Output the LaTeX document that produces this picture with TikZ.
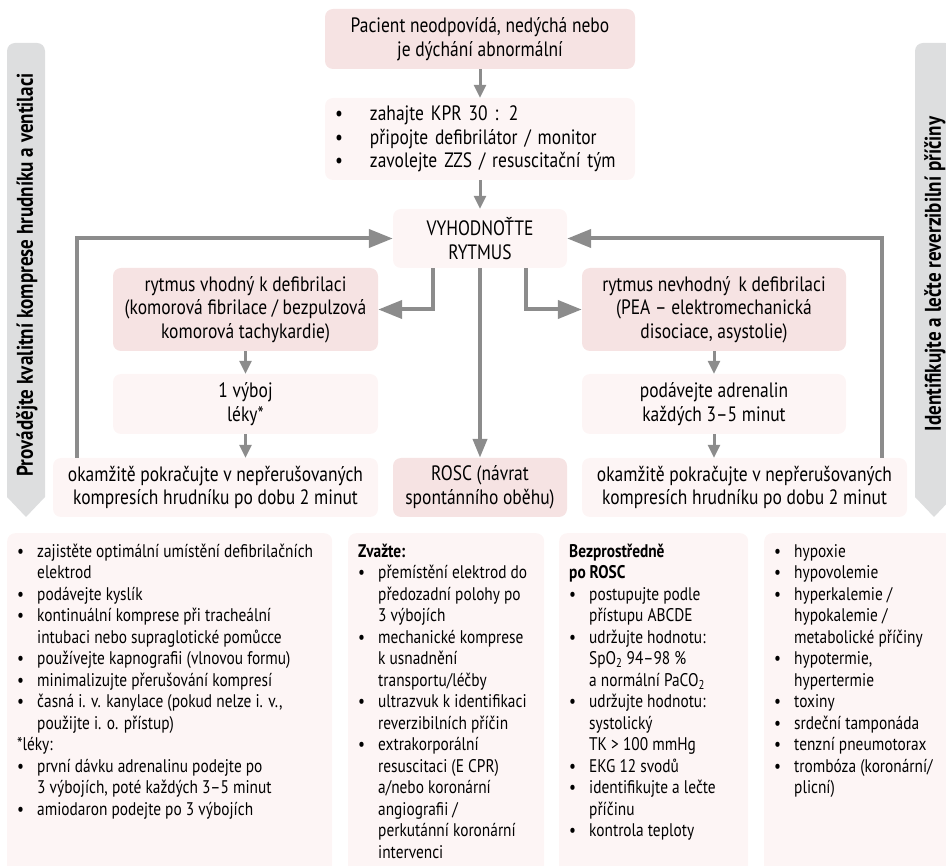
\documentclass[tikz,border=0pt]{standalone}
\usepackage{fontspec}
\setmainfont{PT Sans}[FakeStretch=0.84]
\usetikzlibrary{arrows.meta}
\definecolor{dpink}{RGB}{246,227,227}
\definecolor{lpink}{RGB}{253,245,245}
\definecolor{bargray}{RGB}{221,222,223}
\definecolor{agray}{RGB}{140,140,140}
\newcommand\bul{\makebox[20pt][l]{•}}
\newcommand\bulw{\makebox[35pt][l]{•}}
\newcommand\ind{\hspace*{20pt}}
\newcommand\bottomtext[2]{\begin{minipage}[t][330pt][t]{#1}\raggedright\fontsize{18.3}{21.5}\selectfont\strut #2\end{minipage}}
\begin{document}
\begin{tikzpicture}[x=1pt,y=-1pt,
  flowbox/.style={rounded corners=8pt, inner sep=0pt, align=center, font=\fontsize{20.8}{23.5}\selectfont},
  dbox/.style={flowbox, fill=dpink},
  lbox/.style={flowbox, fill=lpink},
  big/.style={draw=agray, line width=4pt, -{Triangle[length=24pt,width=18pt]}},
  mid/.style={draw=agray, line width=4pt, -{Triangle[length=19pt,width=14pt]}},
  small/.style={draw=agray, line width=3pt, -{Triangle[length=13pt,width=12pt]}},
  bottombox/.style={fill=lpink, rounded corners=8pt, anchor=north west, inner xsep=10pt, inner ysep=9pt, align=left},
  sidetext/.style={rotate=90, font=\bfseries\fontsize{22.7}{23}\selectfont}
]
\useasboundingbox (0,0) rectangle (946,866);
\clip (0,0) rectangle (946,866);

% side bars
\fill[bargray] (26,517) -- (7,497) [rounded corners=8pt] -- (7,43) -- (45,43) [sharp corners] -- (45,497) -- cycle;
\node[sidetext] (ltxt) at (27,275) {Provádějte kvalitní komprese hrudníku a ventilaci};
\fill[bargray] (934,517) -- (915,497) [rounded corners=8pt] -- (915,43) -- (953,43) [sharp corners] -- (953,497) -- cycle;
\node[sidetext] (rtxt) at (935,274) {Identifikujte a lečte reverzibilní příčiny};

% flow boxes
\node[dbox, minimum width=310pt, minimum height=60pt] (start) at (480,39) {Pacient neodpovídá, nedýchá nebo\\je dýchání abnormální};
\node[lbox, minimum width=310pt, minimum height=82pt, text width=290pt, align=left] (cpr) at (480,139) {\bulw zahajte KPR 30 : 2\\\bulw připojte defibrilátor / monitor\\\bulw zavolejte ZZS / resuscitační tým};
\node[lbox, minimum width=174pt, minimum height=59pt] (vyh) at (480,238.5) {VYHODNOŤTE\\RYTMUS};
\node[dbox, minimum width=265pt, minimum height=83pt] (shock) at (245.5,309.5) {rytmus vhodný k defibrilaci\\(komorová fibrilace / bezpulzová\\komorová tachykardie)};
\node[lbox, minimum width=265pt, minimum height=60pt] (shock2) at (245.5,404) {1 výboj\\léky*};
\node[lbox, minimum width=325pt, minimum height=59pt] (contL) at (215.5,487.5) {okamžitě pokračujte v nepřerušovaných\\kompresích hrudníku po dobu 2 minut};
\node[dbox, minimum width=174pt, minimum height=59pt] (rosc) at (480,487.5) {ROSC (návrat\\spontánního oběhu)};
\node[dbox, minimum width=264pt, minimum height=83pt] (nons) at (714,309.5) {rytmus nevhodný~\,k defibrilaci\\(PEA – elektromechanická\\disociace, asystolie)};
\node[lbox, minimum width=264pt, minimum height=60pt] (nons2) at (714,404) {podávejte adrenalin\\každých 3–5 minut};
\node[lbox, minimum width=325pt, minimum height=59pt] (contR) at (744.5,487.5) {okamžitě pokračujte v nepřerušovaných\\kompresích hrudníku po dobu 2 minut};

% connectors
\draw[small] (start) -- (cpr);
\draw[small] (cpr) -- (vyh);
\draw[mid] (vyh) -- (rosc);
\draw[big] ([xshift=-47pt]vyh.south) |- (shock.east);
\draw[big] ([xshift=46pt]vyh.south) |- (nons.west);
\draw[small] (shock) -- (shock2);
\draw[small] (shock2.south) -- (shock2.south |- contL.north);
\draw[small] (nons) -- (nons2);
\draw[small] (nons2.south) -- (nons2.south |- contR.north);
\draw[big] ([xshift=24pt]contL.north west) |- (vyh.west);
\draw[big] ([xshift=-25pt]contR.north east) |- (vyh.east);

% bottom boxes
\node[bottombox] (tips) at (7,533) {\bottomtext{305pt}{\bul zajistěte optimální umístění defibrilačních\\\ind elektrod\\\bul podávejte kyslík\\\bul kontinuální komprese při tracheální\\\ind intubaci nebo supraglotické pomůcce\\\bul používejte kapnografii (vlnovou formu)\\\bul minimalizujte přerušování kompresí\\\bul časná i. v. kanylace (pokud nelze i. v.,\\\ind použijte i. o. přístup)\\\relax *léky:\\\bul první dávku adrenalinu podejte po\\\ind 3 výbojích, poté každých 3–5 minut\\\bul amiodaron podejte po 3 výbojích}};
\node[bottombox] (consider) at (348,533) {\bottomtext{176pt}{\textbf{Zvažte:}\\\bul přemístění elektrod do\\\ind předozadní polohy po\\\ind 3 výbojích\\\bul mechanické komprese\\\ind k usnadnění\\\ind transportu/léčby\\\bul ultrazvuk k identifikaci\\\ind reverzibilních příčin\\\bul extrakorporální\\\ind resuscitaci (E CPR)\\\ind a/nebo koronární\\\ind angiografii /\\\ind perkutánní koronární\\\ind intervenci}};
\node[bottombox] (post) at (559,533) {\bottomtext{169pt}{\textbf{Bezprostředně}\\\textbf{po ROSC}\\\bul postupujte podle\\\ind přístupu ABCDE\\\bul udržujte hodnotu:\\\ind SpO\textsubscript{2} 94–98 \%\\\ind a normální PaCO\textsubscript{2}\\\bul udržujte hodnotu:\\\ind systolický\\\ind TK > 100 mmHg\\\bul EKG 12 svodů\\\bul identifikujte a lečte\\\ind příčinu\\\bul kontrola teploty}};
\node[bottombox] (causes) at (764,533) {\bottomtext{169pt}{\bul hypoxie\\\bul hypovolemie\\\bul hyperkalemie /\\\ind hypokalemie /\\\ind metabolické příčiny\\\bul hypotermie,\\\ind hypertermie\\\bul toxiny\\\bul srdeční tamponáda\\\bul tenzní pneumotorax\\\bul trombóza (koronární/\\\ind plicní)}};
\end{tikzpicture}
\end{document}
